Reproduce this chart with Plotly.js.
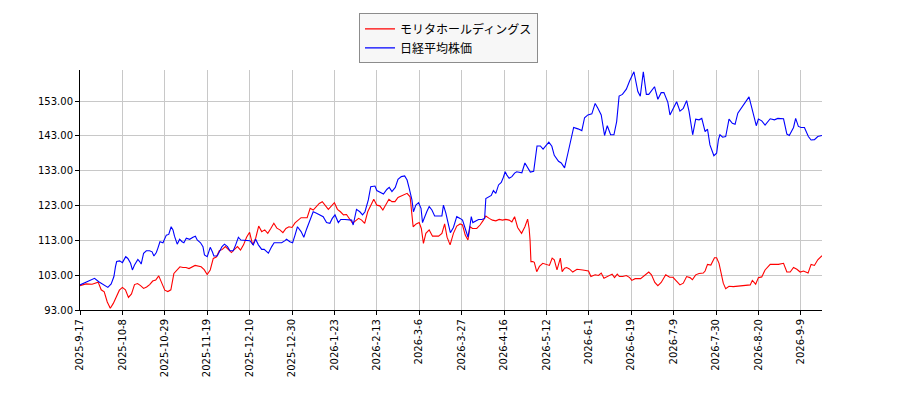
<!DOCTYPE html>
<html>
<head>
<meta charset="utf-8">
<script src="https://cdn.plot.ly/plotly-3.0.1.min.js"></script>
<style>html,body{margin:0;padding:0;background:#fff;}#chart{width:900px;height:400px;}</style>
</head>
<body>
<div id="chart"></div>
<script>
// Trading-day position (0 = 2025-09-17) and values
var moritaX = [0,2,4,6,7,8,9,10,11,12,13,14,15,16,17,18,19,20,21,22,23,24,25,26,27,28,29,30,31,32,33,34,35,36,38,40,41,42,43,44,45,46,47,48,49,50,51,52,53,54,55,56,57,58,59,60,61,62,63,64,65,66,67,68,69,70,71,72,73,75,76,77,79,80,81,82,84,85,86,87,88,89,90,92,93,94,95,96,97,98,99,100,101,102,103,104,105,107,108,109,110,111,112,112.7,113.4,114.2,115.3,116.4,118.4,119.5,120.4,121.2,122.2,123.3,124.4,125.5,126.3,127.2,128.1,128.8,129.6,131,132.1,133.2,134,135.1,136.2,137.3,138.4,139.5,140.6,141.7,142.6,143.5,144.5,145.8,146.9,147.8,148.3,148.6,148.9,149.5,150,150.8,151.7,152.8,153.9,155,155.9,156.6,157.5,157.9,158.6,159.2,160,160.7,161.6,162.7,164.1,166,167.9,168.7,170.1,171.2,172.1,173,174.3,175.7,176.5,177.4,178.1,179.2,180.4,181.5,182.2,183.3,185.1,186.4,187.8,188.7,189.8,190.8,191.9,193.4,194.7,195.8,197,198.1,199.2,200.3,201.4,202.2,203.3,204.4,205.8,206.4,207.2,208.3,209.5,210.2,211,211.9,212.4,213.2,214.3,215.7,217.4,219.6,221.3,222,223.1,224,225.1,226.2,227.9,230.6,232.3,233.4,234.5,235.6,236.7,237.8,238.9,240.4,241.4,242.5,243.6,245];
var moritaY = [100.0,100.5,100.4,101.0,98.8,98.2,95.3,93.5,94.9,96.8,98.7,99.5,98.8,96.6,97.6,100.3,100.6,100.0,99.2,99.6,100.3,101.3,101.6,102.8,100.7,98.7,98.3,98.8,103.5,104.5,105.4,105.2,105.2,104.9,105.8,105.4,104.6,103.2,104.5,107.8,108.2,110.0,110.4,111.2,110.2,109.5,110.4,111.2,110.2,111.7,113.9,115.3,111.7,113.6,117.1,115.5,116.0,115.0,116.4,117.9,116.5,116.0,115.2,116.4,116.9,116.7,118.0,118.9,119.5,119.5,122.2,121.7,123.6,124.1,123.1,121.9,123.8,121.9,121.2,120.3,120.4,119.2,117.9,119.3,118.8,117.9,121.2,123.0,124.8,123.1,122.9,121.7,123.1,124.8,124.1,124.1,125.3,126.0,126.5,125.5,116.9,117.7,118.1,116.4,112.1,115.0,116.0,114.2,114.2,115.0,117.7,113.9,111.7,115.0,117.1,117.7,117.4,114.5,113.1,116.9,116.4,116.4,117.4,118.8,120.0,119.3,118.8,118.6,119.0,118.8,119.0,118.8,118.3,119.8,116.7,115.0,116.9,119.1,116.4,113.1,106.9,106.9,106.7,104.0,105.5,106.4,106.0,105.8,107.9,107.4,104.5,106.1,107.9,104.0,105.0,105.2,104.8,103.9,104.7,104.5,104.2,102.6,103.1,102.9,103.6,102.1,102.6,103.3,102.3,103.3,102.6,102.6,102.9,102.3,101.5,102.0,102.0,102.8,103.9,103.1,100.9,100.0,100.9,103.1,102.4,102.4,101.4,100.2,100.7,102.6,102.3,101.7,103.1,103.5,103.6,104.2,106.1,105.9,108.0,108.0,106.4,102.6,100.7,99.1,99.8,99.7,99.8,100.0,100.2,101.5,100.4,102.3,102.5,104.5,106.1,106.1,106.4,103.9,103.9,105.2,104.7,103.9,104.2,103.6,106.1,105.8,107.4,108.6];

var nikkeiX = [0,1.5,3.2,4.8,6.2,7,8.1,9.2,10.3,11.2,11.7,12.1,13.1,14,15.1,15.8,16.7,17.3,18,19.1,19.7,20.2,21,21.9,23,23.8,24.4,25.2,25.7,26.4,27.4,27.9,28.5,29.3,30.1,30.7,31.2,32.1,32.9,33.7,34.3,35.1,36.2,37.3,38.1,38.7,39.8,40.6,41.1,42,43,43.7,44.2,45.3,46.1,46.9,47.7,48.7,49.5,50.6,51.4,52.3,53.1,53.9,55,56.1,57.2,58,58.9,60,60.8,61.6,62.2,63.3,64.1,65.5,66.6,67.7,68.2,69.3,70.2,71,71.8,73,73.9,74.8,75.9,77,78.1,79.2,80.3,81.4,82.5,83.3,84.2,85.3,86.1,87.5,88.8,89.7,90.2,91.3,92.4,93.3,94.1,95.2,96,97.4,98,99.1,100.2,101.3,102.1,103,104.1,105,106.1,107.2,108,108.7,109.6,110.1,110.9,111.8,112.6,113.1,113.8,114.5,115.3,116.2,117.1,118.4,119.5,120,120.8,121.7,122.3,123.3,124.4,125.5,126.3,127.2,128.1,128.8,129.2,129.7,130.5,131.6,132.7,133.6,134,134.9,135.8,136.5,137.3,138.2,139.1,139.8,140.4,140.9,141.7,142.6,143.5,144.2,145.9,146.9,148.7,149.8,150.9,152,152.9,154.8,155.8,156.6,158,158.9,160,161.1,162.2,163,164.4,165.7,166.6,167.7,169,170.1,171,172.1,173.2,174.1,175.2,176.3,177.2,178,179.1,180.4,181.5,182.9,184.2,185,186,187,187.8,189,189.7,190.8,191.9,192.8,194.1,194.8,195.9,197,198.1,199.2,200.3,201.1,202.3,203.3,204.4,205.3,206.4,207.2,208,208.6,209.3,210.2,210.8,211.3,212.2,213.2,214.3,215.4,216.3,217.2,218.3,219.4,220.9,221.8,222.6,223.3,224,225.1,226.2,227.9,229.3,230.4,232.3,233.4,234.2,235.6,236.3,237.2,238.1,239.2,240.5,241.4,242.5,243.6,245];
var nikkeiY = [100.2,100.8,101.6,102.1,101.1,100.7,100.2,99.5,100.5,102.6,105.4,106.9,107.1,106.6,108.3,107.8,106.4,104.5,105.9,107.5,106.9,106.2,109.3,110.0,110.0,109.7,108.5,109.5,110.7,112.6,112.3,113.6,114.5,114.7,116.9,116.0,114.2,111.9,113.3,112.6,112.3,113.6,113.3,113.9,114.2,113.1,112.3,111.2,108.8,108.3,111.0,109.7,108.5,108.5,109.7,111.2,111.9,111.2,110.0,110.0,111.7,113.9,113.1,113.1,112.9,112.9,111.7,113.3,111.7,110.4,110.4,109.7,109.3,111.2,112.3,112.3,112.3,112.9,113.3,112.6,112.3,114.5,116.9,115.5,113.9,116.2,118.8,121.2,120.8,120.3,119.8,118.1,117.9,119.3,120.3,118.1,119.0,119.0,119.0,118.8,117.4,121.9,121.2,120.3,121.2,124.6,128.4,128.6,127.3,126.7,126.3,127.6,128.2,127.0,128.2,130.5,131.3,131.5,130.3,127.9,124.6,121.2,123.1,123.8,122.2,118.1,119.8,121.2,122.7,121.7,120.0,120.0,120.0,123.1,120.8,117.4,115.2,116.7,119.8,119.3,118.8,116.4,113.9,117.4,119.8,118.1,118.4,119.0,119.0,119.3,125.0,125.4,125.9,127.3,126.5,128.9,129.6,131.1,132.7,131.8,130.8,131.3,132.3,132.7,132.4,135.2,132.6,132.8,140.1,140.1,139.2,141.2,140.0,137.4,135.7,135.2,133.8,138.0,142.8,145.4,145.0,144.5,148.2,149.0,149.3,152.3,150.9,149.0,143.1,145.9,143.3,143.3,147.1,154.4,154.9,156.4,158.8,161.4,155.7,154.4,161.4,154.9,154.9,156.4,157.1,153.5,155.4,155.4,152.6,149.0,150.9,152.8,150.1,150.9,153.1,150.0,143.3,147.8,147.6,148.0,144.2,144.9,140.4,138.7,137.3,138.0,141.9,143.3,142.6,142.8,147.8,146.6,146.3,149.5,150.9,152.5,154.2,151.1,148.0,145.9,147.8,147.3,146.1,147.9,147.6,148.0,147.9,143.5,143.1,145.4,148.0,145.7,145.4,145.4,142.8,141.8,141.9,142.8,143.1];

var tickPos = [0,14,28,42,56,70,84,98,112,126,140,154,168,182,196,210,224,238];
var tickLabels = ["2025-9-17","2025-10-8","2025-10-29","2025-11-19","2025-12-10","2025-12-30","2026-1-23","2026-2-13","2026-3-6","2026-3-27","2026-4-16","2026-5-12","2026-6-1","2026-6-19","2026-7-9","2026-7-30","2026-8-20","2026-9-9"];
var yTicks = [93,103,113,123,133,143,153];
var seriesNames = ["モリタホールディングス","日経平均株価"];

var traces = [
  {x: moritaX, y: moritaY, name: seriesNames[0], type: 'scatter', mode: 'lines',
   line: {color: '#ff0000', width: 1.1}},
  {x: nikkeiX, y: nikkeiY, name: seriesNames[1], type: 'scatter', mode: 'lines',
   line: {color: '#0000ff', width: 1.1}}
];

var layout = {
  width: 900, height: 400,
  margin: {l: 80, r: 78, t: 70, b: 90, pad: 0},
  paper_bgcolor: '#ffffff', plot_bgcolor: '#ffffff',
  font: {family: 'DejaVu Sans, sans-serif', size: 10, color: '#000'},
  showlegend: true,
  legend: {
    x: 0.376, y: 1.236, xanchor: 'left', yanchor: 'top',
    bgcolor: '#f7f7f7', bordercolor: '#8c8c8c', borderwidth: 1,
    font: {family: 'Noto Sans CJK JP, sans-serif', size: 12, color: '#000'},
    tracegroupgap: 0
  },
  xaxis: {
    range: [0, 245], type: 'linear',
    tickmode: 'array', tickvals: tickPos, ticktext: tickLabels,
    tickangle: -90, ticks: 'outside', ticklen: 4, tickcolor: '#000',
    showgrid: true, gridcolor: '#c8c8c8', gridwidth: 1,
    zeroline: false, showline: true, linecolor: '#000', linewidth: 1, mirror: false,
    tickfont: {family: 'DejaVu Sans', size: 10, color: '#000'}
  },
  yaxis: {
    range: [93, 161.9],
    tickmode: 'array', tickvals: yTicks, ticktext: yTicks.map(function(v){return v.toFixed(2);}),
    ticks: 'outside', ticklen: 4, tickcolor: '#000',
    showgrid: true, gridcolor: '#c8c8c8', gridwidth: 1,
    zeroline: false, showline: true, linecolor: '#000', linewidth: 1, mirror: false,
    tickfont: {family: 'DejaVu Sans', size: 10, color: '#000'}
  }
};

Plotly.newPlot('chart', traces, layout, {displayModeBar: false, staticPlot: true});
</script>
</body>
</html>
